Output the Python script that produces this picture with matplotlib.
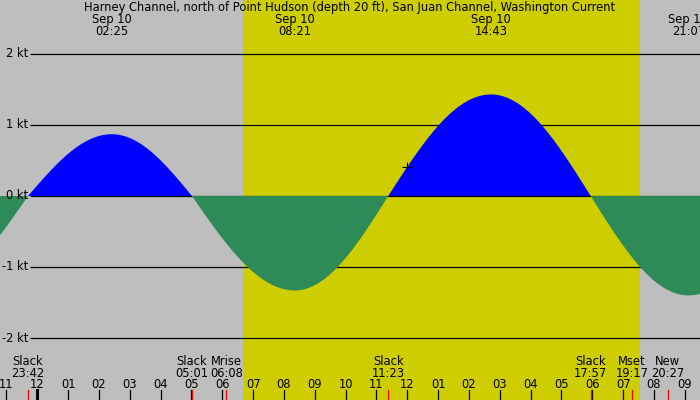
import numpy as np
import matplotlib
matplotlib.use("Agg")
import matplotlib.pyplot as plt
from matplotlib.transforms import blended_transform_factory

# current events (max flood / ebb and slack), day offset relative to Sep 10
event_times = ["20:26", "23:42", "02:25", "05:01", "08:21", "11:23", "14:43", "17:57", "21:07", "00:25"]
event_days = [-1, -1, 0, 0, 0, 0, 0, 0, 0, 1]
event_speeds = [-1.30, 0.0, 0.87, 0.0, -1.33, 0.0, 1.43, 0.0, -1.40, 0.0]

# labels at the top (max current)
top_dates = ["Sep 10", "Sep 10", "Sep 10", "Sep 10"]
top_times = ["02:25", "08:21", "14:43", "21:07"]

# labels at the bottom (slack / moon)
bottom_names = ["Slack", "Slack", "Mrise", "Slack", "Slack", "Mset", "New"]
bottom_times = ["23:42", "05:01", "06:08", "11:23", "17:57", "19:17", "20:27"]
bottom_days = [-1, 0, 0, 0, 0, 0, 0]

sunrise = "06:40"
sunset = "19:32"
now_time = "12:00"

y_ticks = [2, 1, 0, -1, -2]
hour_ticks = list(range(-1, 22))

title = "Harney Channel, north of Point Hudson (depth 20 ft), San Juan Channel, Washington Current"

NIGHT = "#BEBEBE"
DAY = "#CDCD00"
FLOOD = "#0000FF"
EBB = "#2E8B57"
FS = 8.3


def to_hours(hhmm, day=0):
    h, m = hhmm.split(":")
    return day * 24 + int(h) + int(m) / 60.0


def current_at(t, ev_t, ev_v):
    # quarter-wave shape between slack and max, like the tide program draws it
    out = np.zeros_like(t)
    for i in range(len(ev_t) - 1):
        t0, t1 = ev_t[i], ev_t[i + 1]
        v0, v1 = ev_v[i], ev_v[i + 1]
        m = (t >= t0) & (t <= t1)
        s = (t[m] - t0) / (t1 - t0)
        if v0 == 0:
            out[m] = v1 * np.sin(np.pi / 2 * s)
        else:
            out[m] = v0 * np.cos(np.pi / 2 * s)
    return out


ev_t = np.array([to_hours(a, d) for a, d in zip(event_times, event_days)])
ev_v = np.array(event_speeds)

# pixel layout: midnight at x=37.3, 30.83 px per hour, 0 kt at y=196, 71 px per kt
px_h = 30.83
x0 = -37.3 / px_h
x1 = (700 - 37.3) / px_h
y_top = 196 / 71.0
y_bot = -(400 - 196) / 71.0

fig = plt.figure(figsize=(7, 4), dpi=100)
ax = fig.add_axes([0, 0, 1, 1])
ax.set_xlim(x0, x1)
ax.set_ylim(y_bot, y_top)
ax.axis("off")
ax.add_patch(plt.Rectangle((x0, y_bot), x1 - x0, y_top - y_bot, color=NIGHT, zorder=0))
ax.axvspan(to_hours(sunrise), to_hours(sunset), color=DAY, zorder=0.5, lw=0)

t = np.linspace(x0, x1, 3000)
v = current_at(t, ev_t, ev_v)
ax.fill_between(t, 0, v, where=v >= 0, color=FLOOD, lw=0, zorder=2, interpolate=True)
ax.fill_between(t, 0, v, where=v <= 0, color=EBB, lw=0, zorder=3, interpolate=True)

grid_start = (30 - 37.3) / px_h
for yt in y_ticks:
    ax.hlines(yt, grid_start, x1, color="black", lw=0.9, zorder=1 if yt != 0 else 2.5)
    ax.text(grid_start - 0.05, yt, "%d kt" % yt, ha="right", va="center", fontsize=FS, zorder=4)

# current time marker
tn = to_hours(now_time)
ax.plot([tn], current_at(np.array([tn]), ev_t, ev_v), marker="+", color="black",
        ms=7, mew=0.8, zorder=5)

tr = blended_transform_factory(ax.transData, ax.transAxes)


def ypix(p):
    return 1 - p / 400.0


ax.text(0.5, ypix(7.5), title, transform=ax.transAxes, ha="center", va="center", fontsize=FS)
for d, tt in zip(top_dates, top_times):
    x = to_hours(tt)
    ax.text(x, ypix(19.5), d, transform=tr, ha="center", va="center", fontsize=FS)
    ax.text(x, ypix(31.5), tt, transform=tr, ha="center", va="center", fontsize=FS)

for name, tt, d in zip(bottom_names, bottom_times, bottom_days):
    x = to_hours(tt, d)
    ax.text(x, ypix(361.5), name, transform=tr, ha="center", va="center", fontsize=FS)
    ax.text(x, ypix(373.5), tt, transform=tr, ha="center", va="center", fontsize=FS)
    ax.plot([x, x], [ypix(390), ypix(400)], transform=tr, color="red", lw=0.9, zorder=6)

for h in hour_ticks:
    lab = "%02d" % (h % 12 if h % 12 else 12)
    ax.text(h, ypix(385), lab, transform=tr, ha="center", va="center", fontsize=FS)
    ax.plot([h, h], [ypix(390), ypix(400)], transform=tr, color="black",
            lw=2.2 if h % 24 == 0 else 0.9, zorder=5)

fig.savefig("out.png", dpi=100)
